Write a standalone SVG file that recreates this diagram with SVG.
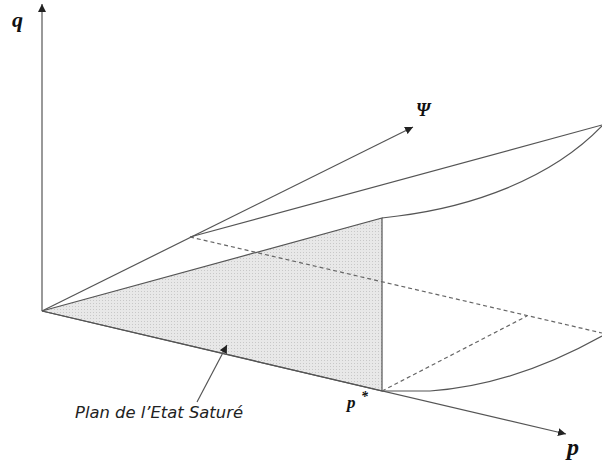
<svg xmlns="http://www.w3.org/2000/svg" width="602" height="464" viewBox="0 0 602 464">
<style>
.ln{fill:none;stroke:#555;stroke-width:1.2}
.ds{fill:none;stroke:#666;stroke-width:1.2;stroke-dasharray:4,3}
.lbl{font-family:"Liberation Serif",serif;font-style:italic;font-weight:bold;fill:#111}
.cap{font-family:"DejaVu Sans",sans-serif;font-style:italic;font-size:15px;fill:#222}
</style>
<defs>
<marker id="ah" viewBox="0 0 10 10" refX="10" refY="5" markerWidth="8" markerHeight="8" markerUnits="userSpaceOnUse" orient="auto">
<path d="M0,0 L10,5 L0,10 z" fill="#222"/>
</marker>
<pattern id="dots" width="3" height="3" patternUnits="userSpaceOnUse">
<rect width="3" height="3" fill="#e8e8e8"/>
<rect width="1" height="1" fill="#c8c8c8"/>
</pattern>
</defs>
<g id="plan">
<polygon points="42,311 382,218 382,391" fill="url(#dots)" stroke="#555" stroke-width="1.2"/>
</g>
<g id="connectors">
<line class="ln" x1="42" y1="311" x2="42" y2="4" marker-end="url(#ah)"/>
<line class="ln" x1="42" y1="311" x2="413" y2="127" marker-end="url(#ah)"/>
<line class="ln" x1="42" y1="311" x2="566" y2="434" marker-end="url(#ah)"/>
<line class="ln" x1="190" y1="237" x2="602" y2="125"/>
<path class="ln" d="M382,218 L398,216 C470,207 550,180 602,126"/>
<path class="ln" d="M382,391 L430,391 C490,387 550,365 602,336"/>
<line class="ds" x1="190" y1="237" x2="602" y2="333"/>
<line class="ds" x1="382" y1="391" x2="527" y2="316"/>
<line class="ln" x1="197" y1="402" x2="227" y2="345" marker-end="url(#ah)"/>
</g>
<g id="labels">
<text class="lbl" x="12" y="27" font-size="22">q</text>
<text class="lbl" x="416" y="116" font-size="18" font-weight="normal">Ψ</text>
<text class="lbl" x="347" y="408" font-size="17">p</text>
<text class="lbl" x="361" y="401" font-size="14">*</text>
<text class="lbl" x="567" y="455" font-size="24">p</text>
<text class="cap" x="75" y="418" textLength="168" lengthAdjust="spacingAndGlyphs">Plan de l’Etat Saturé</text>
</g>
</svg>
